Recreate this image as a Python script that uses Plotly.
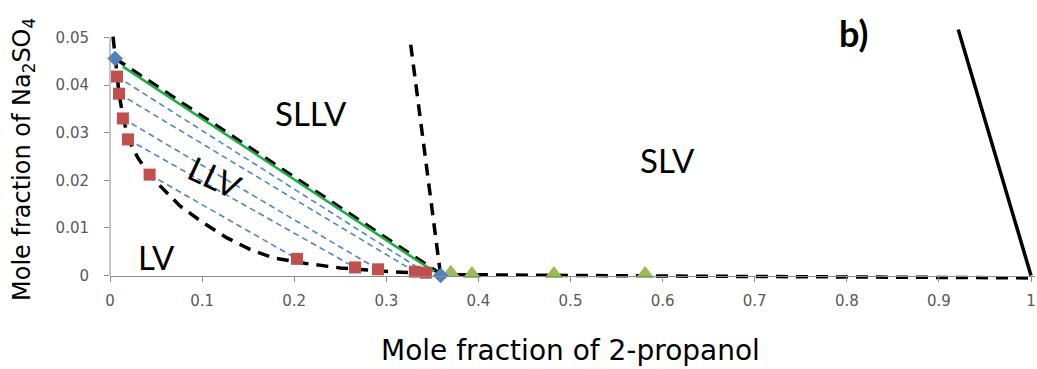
import plotly.graph_objects as go

# ---------------- data ----------------
diamond_x = [0.0055, 0.359]
diamond_y = [0.0456, 0.0]

square_x = [0.0076, 0.0098, 0.014, 0.0195, 0.043, 0.203, 0.266, 0.291, 0.331, 0.343]
square_y = [0.0418, 0.0382, 0.033, 0.0286, 0.0212, 0.0035, 0.0017, 0.0013, 0.0008, 0.0006]

triangle_x = [0.370, 0.393, 0.482, 0.581]
triangle_y = [0.0006, 0.0003, 0.0003, 0.0003]

# tie lines: pairs of square indices (left phase, right phase)
tie_left = [4, 3, 2, 1, 0]
tie_right = [5, 6, 7, 8, 9]

green_x = [0.014, 0.352]
green_y = [0.0439, 0.0008]

sllv_x = [0.0055, 0.360]
sllv_y = [0.0456, 0.0002]

lv_x = [0.0033, 0.0055, 0.0098, 0.0145, 0.0205, 0.030, 0.043, 0.052, 0.076, 0.101,
        0.127, 0.152, 0.177, 0.2135, 0.25, 0.29, 0.33, 0.36, 0.6, 1.0]
lv_y = [0.0502, 0.0456, 0.0382, 0.0329, 0.0285, 0.0248, 0.0211, 0.0193, 0.0146, 0.0111,
        0.0079, 0.0055, 0.0037, 0.0025, 0.0016, 0.0010, 0.0005, 0.0002, -0.0001, -0.0005]

slv_x = [0.3265, 0.359]
slv_y = [0.0485, 0.0]

salt_x = [0.921, 1.0]
salt_y = [0.0517, 0.0]

x_ticks = [0, 0.1, 0.2, 0.3, 0.4, 0.5, 0.6, 0.7, 0.8, 0.9, 1.0]
x_ticktext = ["0", "0.1", "0.2", "0.3", "0.4", "0.5", "0.6", "0.7", "0.8", "0.9", "1"]
y_ticks = [0, 0.01, 0.02, 0.03, 0.04, 0.05]
y_ticktext = ["0", "0.01", "0.02", "0.03", "0.04", "0.05"]

region_labels = ["SLLV", "SLV", "LLV", "LV"]
region_x = [0.218, 0.605, 0.114, 0.051]
region_y = [0.0342, 0.0242, 0.0206, 0.0038]
region_angle = [0, 0, 25, 0]

# ---------------- figure ----------------
LABEL_FONT = "Lato"
AXIS_FONT = "DejaVu Sans"
fig = go.Figure()

tx, ty = [], []
for a, b in zip(tie_left, tie_right):
    tx += [square_x[a], square_x[b], None]
    ty += [square_y[a], square_y[b], None]
fig.add_trace(go.Scatter(x=tx, y=ty, mode="lines",
                         line=dict(color="#4F86C6", width=1.6, dash="6px,4px")))

for xs, ys in [(sllv_x, sllv_y), (lv_x, lv_y), (slv_x, slv_y)]:
    fig.add_trace(go.Scatter(x=xs, y=ys, mode="lines",
                             line=dict(color="black", width=3.5, dash="12px,8px")))

fig.add_trace(go.Scatter(x=green_x, y=green_y, mode="lines",
                         line=dict(color="#1DAE4B", width=2.6)))

fig.add_trace(go.Scatter(x=salt_x, y=salt_y, mode="lines",
                         line=dict(color="black", width=3.5)))

fig.add_trace(go.Scatter(x=square_x, y=square_y, mode="markers",
                         marker=dict(symbol="square", size=12, color="#C0504D"),
                         cliponaxis=False))
fig.add_trace(go.Scatter(x=triangle_x, y=triangle_y, mode="markers",
                         marker=dict(symbol="triangle-up", size=16, color="#9BBB59"),
                         cliponaxis=False))
fig.add_trace(go.Scatter(x=diamond_x, y=diamond_y, mode="markers",
                         marker=dict(symbol="diamond", size=12, color="#4F81BD"),
                         cliponaxis=False))

L, R, T, B = 110, 2, 28, 89
W, H = 1037, 369
ph = H - T - B
y_top = 0.052
y_span = ph / 4760.0
y_bot = y_top - y_span
x_span = (W - L - R) / 921.0

for lab, xx, yy, ang in zip(region_labels, region_x, region_y, region_angle):
    fig.add_annotation(x=xx, y=yy, xref="x", yref="y", text=lab, showarrow=False,
                       textangle=ang, xanchor="center", yanchor="middle",
                       font=dict(family=LABEL_FONT, size=33, color="black"))

fig.add_annotation(x=0.807, y=0.051, xref="x", yref="y", text="<b>b)</b>",
                   showarrow=False, xanchor="center", yanchor="middle",
                   font=dict(family=LABEL_FONT, size=36, color="black"))

fig.add_annotation(x=0.4995, y=(280 - 350) / ph, xref="x", yref="paper",
                   text="Mole fraction of 2-propanol", showarrow=False,
                   xanchor="center", yanchor="middle",
                   font=dict(family=AXIS_FONT, size=28, color="black"))
fig.add_annotation(x=(23 - L) / (W - L - R), y=(H - B - 160) / ph, xref="paper", yref="paper",
                   text="Mole fraction of Na<sub>2</sub>SO<sub>4</sub>", showarrow=False,
                   textangle=-90, xanchor="center", yanchor="middle",
                   font=dict(family=AXIS_FONT, size=24, color="black"))

# y-axis line only from 0 to 0.05
fig.add_shape(type="line", xref="paper", yref="y", x0=0, x1=0, y0=0, y1=0.05,
              line=dict(color="#8C8C8C", width=1))

fig.update_layout(
    width=W, height=H,
    margin=dict(l=L, r=R, t=T, b=B),
    plot_bgcolor="white", paper_bgcolor="white",
    showlegend=False,
    xaxis=dict(range=[0, x_span], tickvals=x_ticks, ticktext=x_ticktext,
               showgrid=False, zeroline=False, showline=True, linecolor="#8C8C8C",
               linewidth=1, ticks="outside", ticklen=5, tickcolor="#8C8C8C",
               anchor="free", position=(0 - y_bot) / y_span,
               ticklabelstandoff=6,
               tickfont=dict(family=AXIS_FONT, size=15, color="#595959")),
    yaxis=dict(range=[y_bot, y_top], tickvals=y_ticks, ticktext=y_ticktext,
               showgrid=False, zeroline=False, showline=False,
               ticks="outside", ticklen=5, tickcolor="#8C8C8C",
               ticklabelstandoff=12,
               tickfont=dict(family=AXIS_FONT, size=15, color="#595959")),
)

fig.write_html("out.html")
